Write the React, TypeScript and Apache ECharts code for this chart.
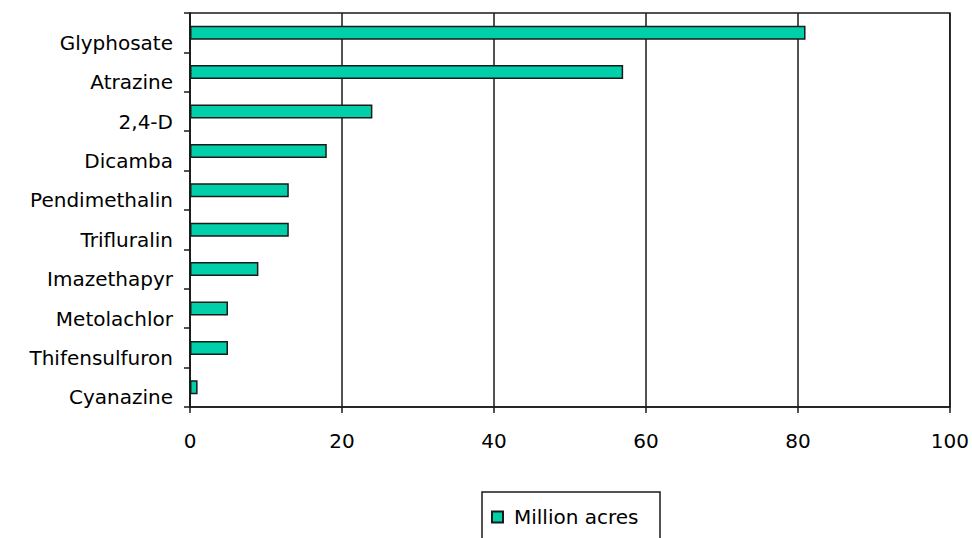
import React, { useEffect, useRef } from "react";
import * as echarts from "echarts";

const categories = [
  "Glyphosate",
  "Atrazine",
  "2,4-D",
  "Dicamba",
  "Pendimethalin",
  "Trifluralin",
  "Imazethapyr",
  "Metolachlor",
  "Thifensulfuron",
  "Cyanazine",
];
const millionAcres = [81, 57, 24, 18, 13, 13, 9, 5, 5, 1];
const seriesName = "Million acres";
const xMin = 0;
const xMax = 100;
const xInterval = 20;

const BAR = "#00d0aa";
const LINE = "#1a1a1a";
const FONT = "DejaVu Sans";

export default function App() {
  const ref = useRef<HTMLDivElement>(null);
  useEffect(() => {
    if (!ref.current) return;
    const chart = echarts.init(ref.current, undefined, { renderer: "svg" });
    chart.setOption({
      animation: false,
      backgroundColor: "#fff",
      grid: {
        left: 190,
        right: 19,
        top: 13,
        bottom: 131,
        show: true,
        borderColor: LINE,
        borderWidth: 1.5,
      },
      xAxis: {
        type: "value",
        min: xMin,
        max: xMax,
        interval: xInterval,
        axisLine: { show: true, lineStyle: { color: LINE, width: 1.5 } },
        axisTick: { show: true, length: 6, lineStyle: { color: LINE, width: 1.5 } },
        splitLine: { show: true, lineStyle: { color: LINE, width: 1.5 } },
        axisLabel: {
          color: "#000",
          fontFamily: FONT,
          fontSize: 20,
          margin: 24,
        },
      },
      yAxis: {
        type: "category",
        data: categories,
        inverse: true,
        axisLine: { show: true, lineStyle: { color: LINE, width: 1.5 } },
        axisTick: { show: true, length: 6, lineStyle: { color: LINE, width: 1.5 } },
        axisLabel: {
          color: "#000",
          fontFamily: FONT,
          fontSize: 20,
          margin: 17,
          verticalAlign: "top",
          lineHeight: 20,
        },
      },
      legend: {
        data: [seriesName],
        left: 486,
        top: 502,
        icon: "rect",
        itemWidth: 11,
        itemHeight: 11,
        textStyle: {
          color: "#000",
          fontFamily: FONT,
          fontSize: 20,
          padding: [0, 0, 0, 6],
        },
      },
      graphic: [
        {
          type: "rect",
          shape: { x: 482, y: 492, width: 178, height: 60 },
          style: { fill: "none", stroke: LINE, lineWidth: 1.5 },
          z: 10,
        },
      ],
      series: [
        {
          name: seriesName,
          type: "bar",
          data: millionAcres,
          barWidth: 14,
          itemStyle: { color: BAR, borderColor: LINE, borderWidth: 1.5 },
        },
      ],
    });
    return () => chart.dispose();
  }, []);
  return (
    <div
      ref={ref}
      style={{ position: "fixed", left: 0, top: 0, width: 972, height: 538 }}
    />
  );
}
